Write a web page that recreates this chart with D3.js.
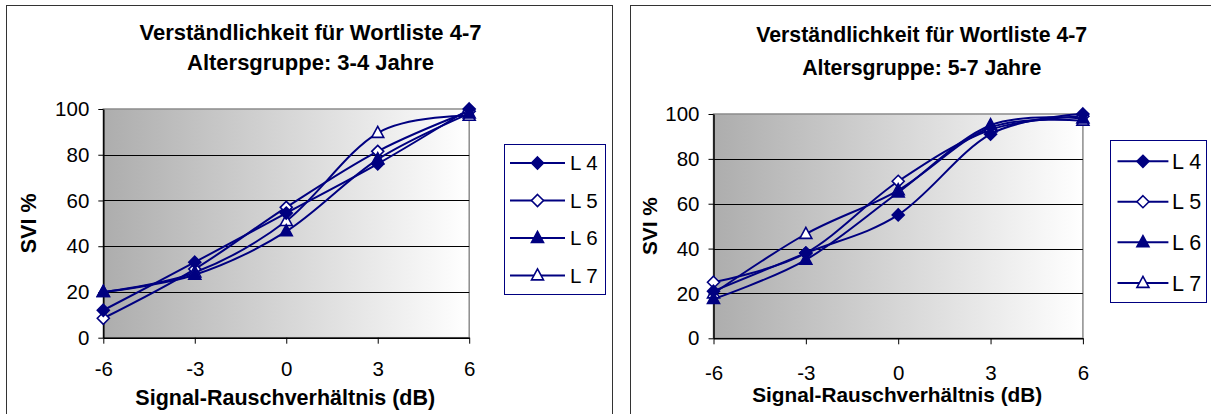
<!DOCTYPE html>
<html>
<head>
<meta charset="utf-8">
<script src="https://cdn.jsdelivr.net/npm/d3@7/dist/d3.min.js"></script>
<style>
  html, body { margin: 0; padding: 0; background: #ffffff; }
  svg { display: block; }
  text { font-family: "Liberation Sans", Arial, sans-serif; fill: #000; }
</style>
</head>
<body>
<svg id="chart" width="1211" height="414"></svg>
<script>
// Signal-to-noise ratios (x categories) and SVI tick values
const snrLevels = [-6, -3, 0, 3, 6];
const sviTicks = [0, 20, 40, 60, 80, 100];
const listNames = ["L 4", "L 5", "L 6", "L 7"];
const markerKinds = ["diamondFilled", "diamondOpen", "triangleFilled", "triangleOpen"];
// open markers go underneath the filled ones
const markerOrder = [1, 3, 0, 2];

// Age group 3-4 years: SVI % per word list
const young_L4 = [12, 33, 54.5, 76, 100];
const young_L5 = [8.5, 30, 57, 81.5, 99];
const young_L6 = [20, 27.5, 46.5, 78, 98];
const young_L7 = [20, 28.5, 51, 89.5, 97];

// Age group 5-7 years: SVI % per word list
const older_L4 = [21, 38, 55, 91, 100];
const older_L5 = [25, 38, 70, 93, 99];
const older_L6 = [17.5, 35, 65, 95, 98];
const older_L7 = [20, 46.5, 66, 94, 97];

const navy = "#000080";

const panels = [
  {
    id: "g1",
    subtitle: "Altersgruppe: 3-4 Jahre",
    frame: { x0: 6.5, y0: 5.5, x1: 612.5, y1: 430 },
    plot: { x0: 103.3, x1: 469.2, y0: 109, y1: 337.7 },
    titleX: 310.5, t1y: 32, t2y: 62, titleSize: 22,
    yLabelX: 28.7, tickLabelY: 369, axisTitleY: 397, axisTitleSize: 21.5, tickSize: 20.5,
    legend: { x: 504.5, y: 144.5, w: 101, h: 150, rows: [163, 200.5, 238, 275.5], lx0: 510, lx1: 565, tx: 570, size: 20.5 },
    series: [young_L4, young_L5, young_L6, young_L7]
  },
  {
    id: "g2",
    subtitle: "Altersgruppe: 5-7 Jahre",
    frame: { x0: 630.5, y0: 5.5, x1: 1213, y1: 430 },
    plot: { x0: 713.5, x1: 1082.9, y0: 114, y1: 338.3 },
    titleX: 921.7, t1y: 34.3, t2y: 67.7, titleSize: 21.3,
    yLabelX: 649.4, tickLabelY: 372.7, axisTitleY: 395, axisTitleSize: 20.8, tickSize: 20.5,
    legend: { x: 1110.5, y: 140.5, w: 96, h: 162, rows: [161.3, 201.7, 242.3, 283], lx0: 1117.5, lx1: 1168.4, tx: 1172, size: 21.5 },
    series: [older_L4, older_L5, older_L6, older_L7]
  }
];

const svg = d3.select("#chart");
const defs = svg.append("defs");

function markerPath(kind) {
  if (kind.startsWith("diamond")) {
    const r = 6;
    return `M0,${-r}L${r},0L0,${r}L${-r},0Z`;
  }
  const w = 6, h = 11;
  return `M0,${-h * 0.6}L${w},${h * 0.4}L${-w},${h * 0.4}Z`;
}

function drawMarker(g, kind, x, y) {
  const filled = kind.endsWith("Filled");
  g.append("path")
    .attr("d", markerPath(kind))
    .attr("transform", `translate(${x},${y})`)
    .attr("fill", filled ? navy : "#ffffff")
    .attr("stroke", navy)
    .attr("stroke-width", 1.6)
    .attr("stroke-linejoin", "miter");
}

panels.forEach(p => {
  const g = svg.append("g").attr("id", p.id);

  // outer frame
  g.append("rect")
    .attr("x", p.frame.x0).attr("y", p.frame.y0)
    .attr("width", p.frame.x1 - p.frame.x0).attr("height", p.frame.y1 - p.frame.y0)
    .attr("fill", "#ffffff").attr("stroke", "#333333").attr("stroke-width", 1);

  // titles
  g.append("text").attr("x", p.titleX).attr("y", p.t1y).attr("dy", "0.35em")
    .attr("text-anchor", "middle").attr("font-weight", "bold").attr("font-size", p.titleSize)
    .text("Verständlichkeit für Wortliste 4-7");
  g.append("text").attr("x", p.titleX).attr("y", p.t2y).attr("dy", "0.35em")
    .attr("text-anchor", "middle").attr("font-weight", "bold").attr("font-size", p.titleSize)
    .text(p.subtitle);

  const x = d3.scalePoint().domain(snrLevels).range([p.plot.x0, p.plot.x1]);
  const y = d3.scaleLinear().domain([0, 100]).range([p.plot.y1, p.plot.y0]);

  // plot area with horizontal gray-to-white gradient
  const gradId = p.id + "-grad";
  const grad = defs.append("linearGradient").attr("id", gradId)
    .attr("x1", "0%").attr("x2", "100%").attr("y1", "0%").attr("y2", "0%");
  grad.append("stop").attr("offset", "0%").attr("stop-color", "#adadad");
  grad.append("stop").attr("offset", "100%").attr("stop-color", "#ffffff");

  g.append("rect")
    .attr("x", p.plot.x0).attr("y", y(100))
    .attr("width", p.plot.x1 - p.plot.x0).attr("height", y(0) - y(100))
    .attr("fill", `url(#${gradId})`).attr("stroke", "#8c8c8c").attr("stroke-width", 1.5);

  // horizontal gridlines
  g.append("g").selectAll("line")
    .data(sviTicks.filter(t => t > 0 && t < 100))
    .join("line")
    .attr("x1", p.plot.x0).attr("x2", p.plot.x1)
    .attr("y1", d => Math.round(y(d)) + 0.5).attr("y2", d => Math.round(y(d)) + 0.5)
    .attr("stroke", "#000").attr("stroke-width", 1);

  // y axis
  const yAxis = g.append("g")
    .attr("transform", `translate(${p.plot.x0},0)`)
    .call(d3.axisLeft(y).tickValues(sviTicks).tickSize(5).tickPadding(9).tickSizeOuter(0));
  yAxis.select(".domain").attr("stroke", "#000").attr("stroke-width", 1.5);
  yAxis.selectAll(".tick line").attr("stroke", "#000");
  yAxis.selectAll(".tick text")
    .attr("font-size", p.tickSize).attr("font-family", "Liberation Sans, Arial, sans-serif").attr("fill", "#000");

  // x axis
  const xAxis = g.append("g")
    .attr("transform", `translate(0,${p.plot.y1})`)
    .call(d3.axisBottom(x).tickSize(6).tickSizeOuter(0));
  xAxis.select(".domain").attr("stroke", "#000").attr("stroke-width", 1.5);
  xAxis.selectAll(".tick line").attr("stroke", "#000");
  xAxis.selectAll(".tick text")
    .attr("font-size", p.tickSize).attr("font-family", "Liberation Sans, Arial, sans-serif").attr("fill", "#000")
    .attr("y", p.tickLabelY - p.plot.y1).attr("dy", "0.35em");

  // axis titles
  g.append("text").attr("x", (p.plot.x0 + p.plot.x1) / 2 - 1).attr("y", p.axisTitleY).attr("dy", "0.35em")
    .attr("text-anchor", "middle").attr("font-weight", "bold").attr("font-size", p.axisTitleSize)
    .text("Signal-Rauschverhältnis (dB)");
  g.append("text")
    .attr("transform", `translate(${p.yLabelX},${(p.plot.y0 + p.plot.y1) / 2}) rotate(-90)`)
    .attr("dy", "0.35em")
    .attr("text-anchor", "middle").attr("font-weight", "bold").attr("font-size", p.axisTitleSize)
    .text("SVI %");

  // smoothed series lines
  const line = d3.line()
    .x((d, i) => x(snrLevels[i]))
    .y(d => y(d))
    .curve(d3.curveCardinal.tension(0));

  const lines = g.append("g");
  p.series.forEach(vals => {
    lines.append("path").attr("d", line(vals))
      .attr("fill", "none").attr("stroke", navy).attr("stroke-width", 2);
  });
  const marks = g.append("g");
  markerOrder.forEach(si => {
    p.series[si].forEach((v, i) => drawMarker(marks, markerKinds[si], x(snrLevels[i]), y(v)));
  });

  // legend
  const L = p.legend;
  const lg = g.append("g");
  lg.append("rect").attr("x", L.x).attr("y", L.y).attr("width", L.w).attr("height", L.h)
    .attr("fill", "#ffffff").attr("stroke", navy).attr("stroke-width", 1);
  listNames.forEach((name, i) => {
    const ry = L.rows[i];
    lg.append("line").attr("x1", L.lx0).attr("x2", L.lx1).attr("y1", ry).attr("y2", ry)
      .attr("stroke", navy).attr("stroke-width", 2);
    drawMarker(lg, markerKinds[i], (L.lx0 + L.lx1) / 2, ry);
    lg.append("text").attr("x", L.tx).attr("y", ry).attr("dy", "0.35em")
      .attr("font-size", L.size).text(name);
  });
});
</script>
</body>
</html>
